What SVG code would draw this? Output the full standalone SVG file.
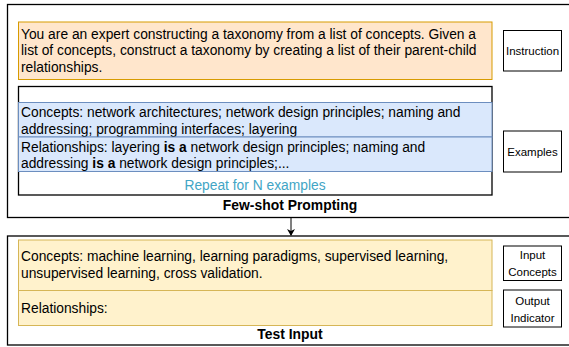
<svg xmlns="http://www.w3.org/2000/svg" width="569" height="347" viewBox="0 0 569 347">
<style>
text{font-family:"Liberation Sans",Arial,sans-serif;fill:#000}
.t{font-size:13.8px}
.s{font-size:11.5px;text-anchor:middle}
.b{font-size:13.9px;font-weight:bold;text-anchor:middle}
.box{fill:#fff;stroke:#000;stroke-width:1.3}
.lbl{fill:#fff;stroke:#000;stroke-width:1}
</style>
<defs>
<marker id="ah" markerWidth="8" markerHeight="8" refX="6" refY="4" orient="auto" markerUnits="userSpaceOnUse">
<path d="M0,0 L7,4 L0,8 L2,4 Z" fill="#000"/>
</marker>
</defs>
<g id="few-shot">
<rect class="box" x="7.5" y="4.5" width="570" height="213"/>
<text class="b" x="290" y="210">Few-shot Prompting</text>
</g>
<g id="instruction">
<rect x="18.5" y="22" width="473.5" height="57.5" fill="#ffe6cc" stroke="#d79b00"/>
<text class="t" x="21" y="38.5">You are an expert constructing a taxonomy from a list of concepts. Given a</text>
<text class="t" x="21" y="55">list of concepts, construct a taxonomy by creating a list of their parent-child</text>
<text class="t" x="21" y="71.5">relationships.</text>
</g>
<g id="instruction-label">
<rect class="lbl" x="503.5" y="30.5" width="58" height="40.5"/>
<text class="s" x="532.5" y="55">Instruction</text>
</g>
<g id="examples">
<rect class="box" x="18.5" y="86.5" width="473.5" height="108.5"/>
<rect x="18.5" y="102.5" width="473.5" height="34.5" fill="#dae8fc" stroke="#6c8ebf"/>
<text class="t" x="21" y="117">Concepts: network architectures; network design principles; naming and</text>
<text class="t" x="21" y="133.5">addressing; programming interfaces; layering</text>
<rect x="18.5" y="137" width="473.5" height="34.5" fill="#dae8fc" stroke="#6c8ebf"/>
<text class="t" x="21" y="151.5">Relationships: layering <tspan font-weight="bold">is a</tspan> network design principles; naming and</text>
<text class="t" x="21" y="168">addressing <tspan font-weight="bold">is a</tspan> network design principles;...</text>
<text class="t" x="255" y="190" text-anchor="middle" style="fill:#42a5c5">Repeat for N examples</text>
</g>
<g id="examples-label">
<rect class="lbl" x="503.5" y="131" width="58" height="41"/>
<text class="s" x="532.5" y="155.5">Examples</text>
</g>
<g id="test-input">
<rect class="box" x="7.5" y="236" width="570" height="109"/>
<text class="b" x="290" y="339">Test Input</text>
</g>
<g id="test-concepts">
<rect x="18.5" y="240" width="473.5" height="50.5" fill="#fff2cc" stroke="#d6b656"/>
<text class="t" x="21" y="261">Concepts: machine learning, learning paradigms, supervised learning,</text>
<text class="t" x="21" y="277.5">unsupervised learning, cross validation.</text>
<rect x="18.5" y="290.5" width="473.5" height="35" fill="#fff2cc" stroke="#d6b656"/>
<text class="t" x="21" y="312.5">Relationships:</text>
</g>
<g id="input-concepts-label">
<rect class="lbl" x="503.5" y="246" width="58" height="34.5"/>
<text class="s" x="532.5" y="259">Input</text>
<text class="s" x="532.5" y="276">Concepts</text>
</g>
<g id="output-indicator-label">
<rect class="lbl" x="503.5" y="290" width="58" height="37"/>
<text class="s" x="532.5" y="304.5">Output</text>
<text class="s" x="532.5" y="322">Indicator</text>
</g>
<g id="connectors">
<line x1="291" y1="218" x2="291" y2="235" stroke="#000" stroke-width="1" marker-end="url(#ah)"/>
</g>
</svg>
